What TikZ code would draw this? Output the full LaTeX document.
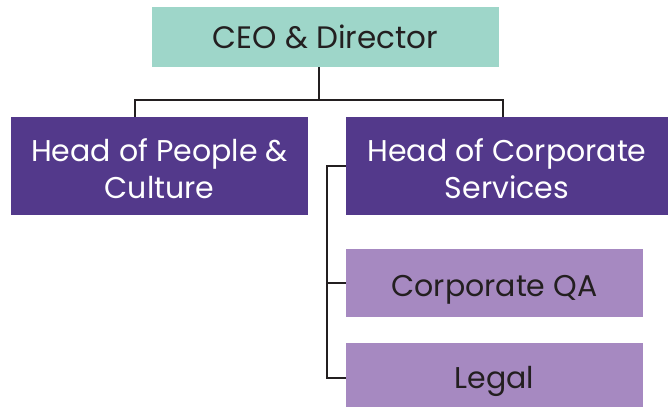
\documentclass[tikz,border=0pt]{standalone}
\usepackage{fontspec}
\setmainfont{Poppins}
\usetikzlibrary{calc}
\definecolor{ceoteal}{HTML}{9ED6C9}
\definecolor{headpurple}{HTML}{53398B}
\definecolor{teamlilac}{HTML}{A689C1}
\definecolor{inkdark}{HTML}{231F20}

\begin{document}
\begin{tikzpicture}[x=1pt, y=-1pt,
    box/.style={rectangle, inner sep=0pt, align=center, font=\fontsize{30}{37}\selectfont},
    link/.style={line width=2pt, inkdark}]

    \useasboundingbox (0,0) rectangle (668,407);

    \node[box, fill=ceoteal, text=inkdark, minimum width=347pt, minimum height=60pt, font=\fontsize{31}{37}\selectfont] (ceo) at (325.5,37) {CEO \& Director};
    \node[box, fill=headpurple, text=white, minimum width=297pt, minimum height=98pt, text height=65pt] (people) at (159.5,166) {Head of People \&\\Culture};
    \node[box, fill=headpurple, text=white, minimum width=322pt, minimum height=98pt, text height=65pt] (corp) at (507,166) {Head of Corporate\\Services};
    \node[box, fill=teamlilac, text=inkdark, minimum width=297pt, minimum height=68pt, text height=26pt, text depth=0pt] (qa) at (494.5,283) {Corporate QA};
    \node[box, fill=teamlilac, text=inkdark, minimum width=297pt, minimum height=64pt, text height=26pt, text depth=0pt] (legal) at (494.5,375) {Legal};

    \coordinate (bus) at (319,100);
    \coordinate (rail) at (327,0);

    \draw[link] (bus |- ceo.south) -- (bus);
    \draw[link] ([xshift=-24.5pt]people.north) |- (bus) -| ([xshift=-4pt]corp.north);
    \draw[link] (corp.west) -| ([yshift=-3pt]rail |- legal.west) -- ([yshift=-3pt]legal.west);
    \draw[link] (rail |- qa.west) -- (qa.west);

\end{tikzpicture}
\end{document}
